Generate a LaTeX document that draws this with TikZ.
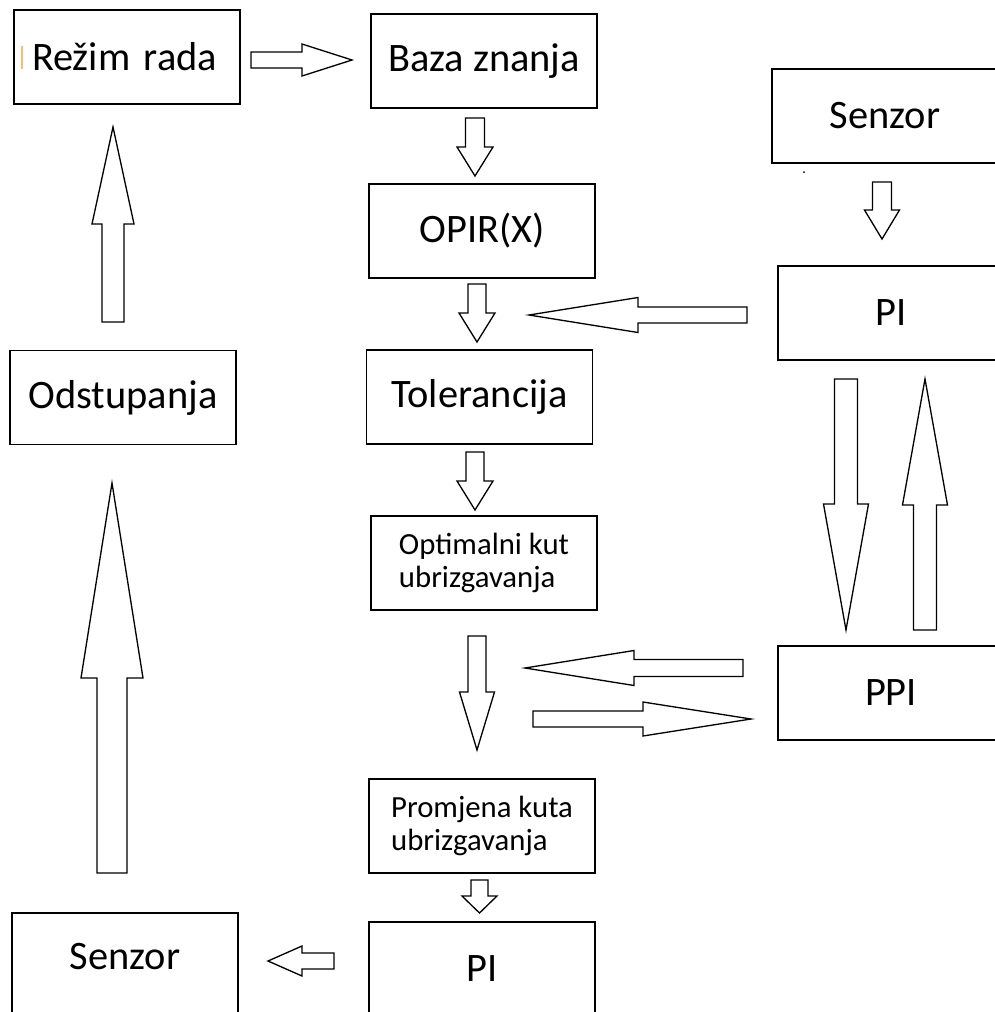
\documentclass[tikz,border=0pt]{standalone}
\usepackage{fontspec}
\setmainfont{Carlito}
\usetikzlibrary{calc}

\tikzset{
  box/.style={draw, line width=1.1pt, minimum width=4.52cm, minimum height=1.88cm, inner sep=0pt, font=\fontsize{23}{27}\selectfont},
  smallbox/.style={box, align=left, font=\fontsize{17.5}{18.9}\selectfont},
  blockline/.style={draw, line width=0.75pt, line join=miter, fill=white},
}

\newcommand{\blockarrow}[5]{%
  \path ($(#2)!#5*0.02cm!(#1)$) coordinate (hb);
  \draw[blockline] ($(#1)!#3*0.02cm!90:(#2)$) -- ($(hb)!#3*0.02cm!90:(#2)$) -- ($(hb)!#4*0.02cm!90:(#2)$) -- (#2)
    -- ($(hb)!#4*0.02cm!-90:(#2)$) -- ($(hb)!#3*0.02cm!-90:(#2)$) -- ($(#1)!#3*0.02cm!-90:(#2)$) -- cycle;
}

\begin{document}
\begin{tikzpicture}[x=0.02cm, y=-0.02cm]
    \useasboundingbox (0,0) rectangle (995,1012);
    \clip (0,0) rectangle (995,1012);

    \node[box, text width=3.8cm, align=left] (rezim) at (127,57) {Režim rada};
    \node[box] (baza) at (484,61) {Baza znanja};
    \node[box] (opir) at (482,231) {OPIR(X)};
    \node[box] (tol) at (479.5,397) {Tolerancija};
    \node[smallbox] (opt) at (484,563) {Optimalni kut\\ubrizgavanja};
    \node[smallbox] (prom) at (482,826) {Promjena kuta\\ubrizgavanja};
    \node[box] (pib) at (482,969) {PI};
    \node[box] (odst) at (123,397.5) {Odstupanja};
    \node[box, anchor=north, minimum height=2.2cm, text depth=0.45cm] (senzb) at (125,912) {Senzor};
    \node[box] (senzt) at (885,116) {Senzor};
    \node[box] (pir) at (891,313) {PI};
    \node[box] (ppi) at (891,693) {PPI};

    \draw[orange!55, line width=0.8pt] (22,46) -- (22,69);
    \fill (804,172) circle (1);

    \coordinate (rb-s) at (251,60);    \coordinate (rb-e) at (352,60);
    \coordinate (bo-s) at (475,118);   \coordinate (bo-e) at (475,176);
    \coordinate (ot-s) at (477,284);   \coordinate (ot-e) at (477,342);
    \coordinate (to-s) at (475,452);   \coordinate (to-e) at (475,510);
    \coordinate (op-s) at (477,636);   \coordinate (op-e) at (477,750);
    \coordinate (pp-s) at (479.5,880); \coordinate (pp-e) at (479.5,913);
    \coordinate (ps-s) at (334,961);   \coordinate (ps-e) at (268,961);
    \coordinate (so-s) at (112,873);   \coordinate (so-e) at (112,483);
    \coordinate (or-s) at (113,322);   \coordinate (or-e) at (113,127);
    \coordinate (sp-s) at (882,182);   \coordinate (sp-e) at (882,239);
    \coordinate (pt-s) at (747,315);   \coordinate (pt-e) at (529,315);
    \coordinate (pd-s) at (846,379);   \coordinate (pd-e) at (846,630);
    \coordinate (pu-s) at (925,630);   \coordinate (pu-e) at (925,379);
    \coordinate (ql-s) at (743,668);   \coordinate (ql-e) at (525,668);
    \coordinate (qr-s) at (533,719);   \coordinate (qr-e) at (751,719);

    \foreach \a/\w/\h/\l in {rb/8/16/50, bo/9.5/18/29, ot/9/18/29, to/9/18/29, op/9/17.5/58,
        pp/8.5/17.5/17, ps/8/15/34, so/15/31/195, or/11/21/97, sp/9.5/17.5/29,
        pt/8/17.5/109, pd/11.5/22.5/126, pu/11.5/22.5/126, ql/8.5/17.5/109, qr/8/17/108}
        {\blockarrow{\a-s}{\a-e}{\w}{\h}{\l}}
\end{tikzpicture}
\end{document}
